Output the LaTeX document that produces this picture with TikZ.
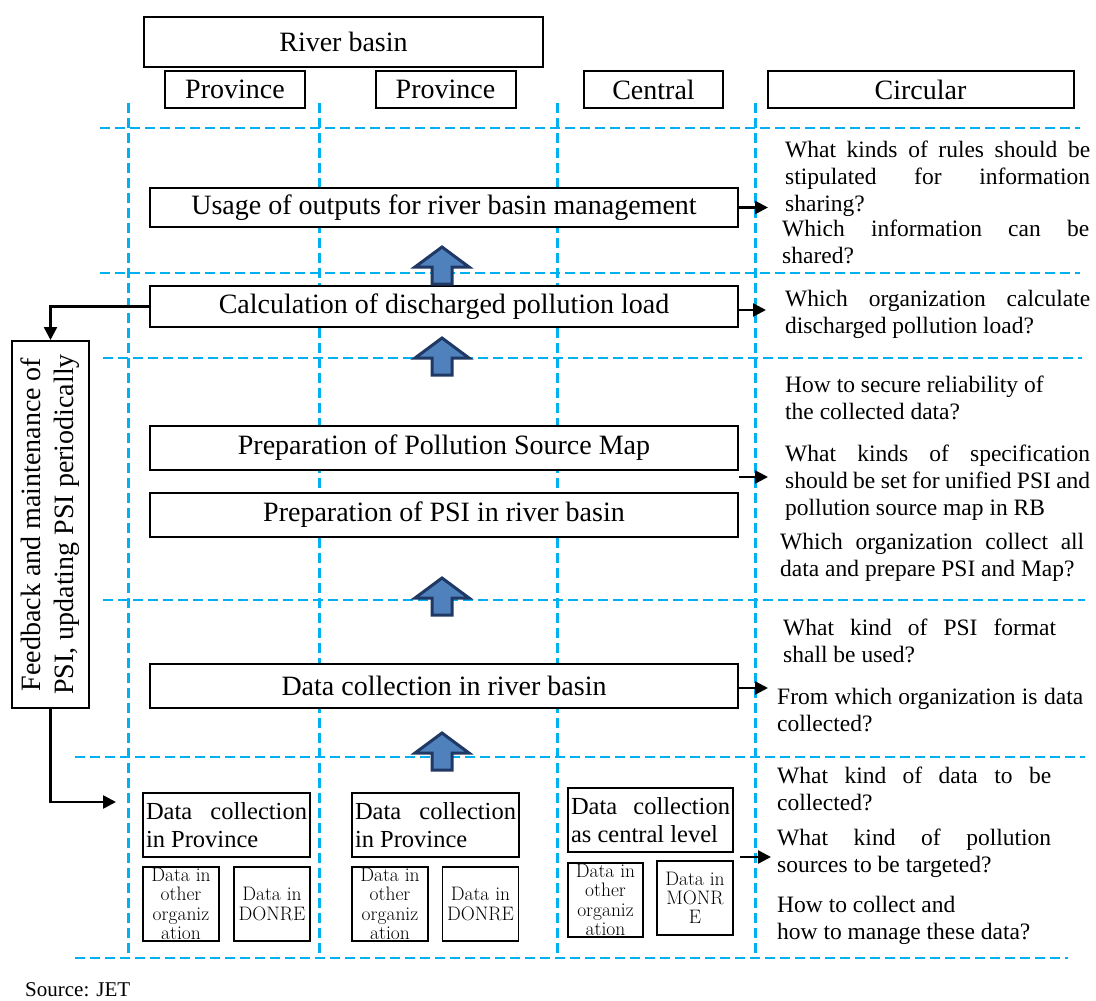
\documentclass[tikz,border=0pt]{standalone}
\usepackage{fontspec}
\setmainfont{Liberation Serif}
\usetikzlibrary{arrows.meta}

\definecolor{gridblue}{RGB}{0,176,240}
\definecolor{arrowfill}{RGB}{79,129,189}
\definecolor{arrowline}{RGB}{31,56,100}

% a line of text stretched to a given width (justified line)
\newcommand{\jline}[2]{\makebox[#1][s]{#2}}

\begin{document}
\begin{tikzpicture}[x=1pt,y=-1pt,
  grid v/.style={draw=gridblue, line width=3pt, dash pattern=on 10pt off 5pt},
  grid h/.style={draw=gridblue, line width=2.5pt, dash pattern=on 10pt off 5pt},
  header/.style={draw, line width=2pt, fill=white, inner sep=0pt,
    font=\fontsize{28}{32}\selectfont},
  stage/.style={draw, line width=2pt, fill=white, inner sep=0pt,
    minimum width=588pt, font=\fontsize{28}{32}\selectfont},
  collect/.style={draw, line width=2pt, fill=white, inner sep=3pt,
    minimum width=167pt, minimum height=64pt, align=left,
    font=\fontsize{24.5}{28}\selectfont},
  smallbox/.style={draw, line width=1.8pt, fill=white, inner sep=0pt,
    minimum width=76pt, minimum height=74pt, align=center,
    font=\fontfamily{lmr}\fontsize{19.5}{19.2}\selectfont},
  question/.style={anchor=north west, inner sep=0pt, align=left,
    font=\fontsize{23.5}{27}\selectfont},
  link/.style={-{Triangle[length=13pt,width=13pt]}, line width=2.5pt},
  uparrow/.pic={\draw[line width=3pt, draw=arrowline, fill=arrowfill, line join=miter]
    (0,0) -- (27,20) -- (10,20) -- (10,37) -- (-10,37) -- (-10,20) -- (-27,20) -- cycle;}
]
\useasboundingbox (0,0) rectangle (1096,1001);

% dashed lane grid
\foreach \x in {128,319,557,755} \draw[grid v] (\x,103) -- (\x,958);
\draw[grid h] (100,128) -- (1080,128);
\draw[grid h] (100,273) -- (1080,273);
\draw[grid h] (103,358) -- (1082,358);
\draw[grid h] (103,600) -- (1085,600);
\draw[grid h] (75,757) -- (1085,757);
\draw[grid h] (75,958) -- (1068,958);

% column headers
\node[header, minimum width=399pt, minimum height=50pt] (rb) at (343.5,42) {River basin};
\node[header, minimum width=140pt, minimum height=37pt] (prov1) at (235,89.5) {Province};
\node[header, minimum width=140pt, minimum height=37pt] (prov2) at (445.5,89.5) {Province};
\node[header, minimum width=139pt, minimum height=37pt] (central) at (653.5,89.5) {Central};
\node[header, minimum width=306pt, minimum height=37pt] (circ) at (920.5,89.5) {Circular};

% process stages
\node[stage, minimum height=39pt] (usage) at (444,207.5) {Usage of outputs for river basin management};
\node[stage, minimum height=41pt] (calc) at (444,306.5) {Calculation of discharged pollution load};
\node[stage, minimum height=44pt] (map) at (444,448) {Preparation of Pollution Source Map};
\node[stage, minimum height=44pt] (psi) at (444,515) {Preparation of PSI in river basin};
\node[stage, minimum height=44pt] (dcrb) at (444,686) {Data collection in river basin};

% feedback loop box
\node[draw, line width=2pt, fill=white, rotate=90, minimum width=367pt, minimum height=77pt,
  inner sep=0pt, align=center, font=\fontsize{28}{33}\selectfont] (fb) at (50.5,524.5)
  {Feedback and maintenance of\\PSI, updating PSI periodically};

% data collection level
\node[collect] (dp1) at (226.5,825) {\jline{161pt}{Data collection}\\in Province};
\node[collect] (dp2) at (435.5,825) {\jline{161pt}{Data collection}\\in Province};
\node[collect, minimum width=165pt] (dpc) at (650.5,820) {\jline{159pt}{Data collection}\\as central level};

\node[smallbox] (oo1) at (181,904) {Data in\\other\\organiz\\ation};
\node[smallbox] (dn1) at (272,904) {Data in\\DONRE};
\node[smallbox] (oo2) at (390,904) {Data in\\other\\organiz\\ation};
\node[smallbox] (dn2) at (480.5,904) {Data in\\DONRE};
\node[smallbox, minimum width=75pt] (ooc) at (605.5,900) {Data in\\other\\organiz\\ation};
\node[smallbox] (monre) at (695,898) {Data in\\MONR\\E};

% upward flow arrows
\pic at (442,247) {uparrow};
\pic at (442,338) {uparrow};
\pic at (442,578) {uparrow};
\pic at (442,733) {uparrow};

% links to the circular questions
\coordinate (qa) at (768,207.5);
\coordinate (qb) at (766,310);
\coordinate (qc) at (768,477);
\coordinate (qd) at (768,688);
\coordinate (qe0) at (740,857);
\coordinate (qe) at (771,857);
\draw[link] (usage.east) -- (qa);
\draw[link] (calc.east |- qb) -- (qb);
\draw[link] (map.east |- qc) -- (qc);
\draw[link] (dcrb.east |- qd) -- (qd);
\draw[link] (qe0) -- (qe);

% feedback connectors
\coordinate (back) at (116,802);
\draw[link] (calc.west) -| (fb.east);
\draw[link] (fb.west) |- (back);

% circular questions
\node[question] (qA1) at (785,141) {\jline{305pt}{What kinds of rules should be}\\\jline{305pt}{stipulated for information}\\sharing?};
\node[question] (qA2) at (782,220) {\jline{307pt}{Which information can be}\\shared?};
\node[question] (qB) at (785,290) {\jline{305pt}{Which organization calculate}\\discharged pollution load?};
\node[question] (qC1) at (785,376) {How to secure reliability of\\the collected data?};
\node[question] (qC2) at (785,445) {\jline{305pt}{What kinds of specification}\\\jline{305pt}{should be set for unified PSI and}\\pollution source map in RB};
\node[question] (qC3) at (780,533) {\jline{304pt}{Which organization collect all}\\data and prepare PSI and Map?};
\node[question] (qD1) at (783,619) {\jline{273pt}{What kind of PSI format}\\shall be used?};
\node[question] (qD2) at (777,688) {\jline{306pt}{From which organization is data}\\collected?};
\node[question] (qE1) at (777,767) {\jline{274pt}{What kind of data to be}\\collected?};
\node[question] (qE2) at (777,829) {\jline{274pt}{What kind of pollution}\\sources to be targeted?};
\node[question] (qE3) at (777,896) {How to collect and\\how to manage these data?};

\node[anchor=base west, inner sep=0pt, font=\fontsize{21}{24}\selectfont] (src) at (25,996) {Source: JET};
\end{tikzpicture}
\end{document}
